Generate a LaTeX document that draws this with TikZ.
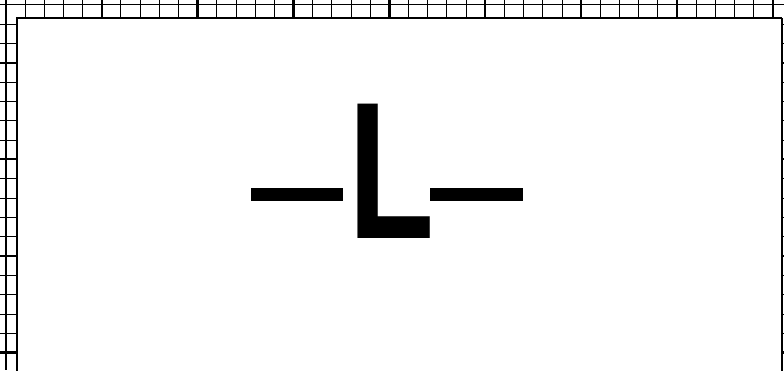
\documentclass[tikz,border=0pt]{standalone}
\usepackage{fontspec}
\setmainfont{Liberation Sans}
\begin{document}
\begin{tikzpicture}[x=1pt,y=-1pt,
  minorline/.style={line width=0.9pt,black},
  majorline/.style={line width=2.3pt,black},
  frameline/.style={line width=2.6pt,black,line join=miter},
  lead/.style={fill=black,inner sep=0pt,minimum width=92.6pt,minimum height=13.3pt}]
\useasboundingbox (0,0) rectangle (784,370);
\clip (0,0) rectangle (784,370);
% grid
\foreach \k in {0,...,40} \draw[minorline] ({5.8+\k*19.18},0) -- ({5.8+\k*19.18},370);
\foreach \k in {0,5,...,40} \draw[majorline] ({5.8+\k*19.18},0) -- ({5.8+\k*19.18},370);
\foreach \k in {0,...,18} \draw[minorline] (0,{4.7+\k*19.33}) -- (784,{4.7+\k*19.33});
\foreach \k in {3,8,13,18} \draw[majorline] (0,{4.7+\k*19.33}) -- (784,{4.7+\k*19.33});
% frame
\fill[white] (17,18) rectangle (781.7,380);
\draw[frameline] (17,380) -- (17,18) -- (781.7,18);
\draw[line width=2pt] (781.7,18) -- (781.7,380);
% symbol
\node[lead] (ldash) at (297,194.35) {};
\node[inner sep=0pt,anchor=south west] (ell) at (348,238.3) {\resizebox{86pt}{134.3pt}{\bfseries L}};
\node[lead] (rdash) at (476.65,194.35) {};
\end{tikzpicture}
\end{document}
